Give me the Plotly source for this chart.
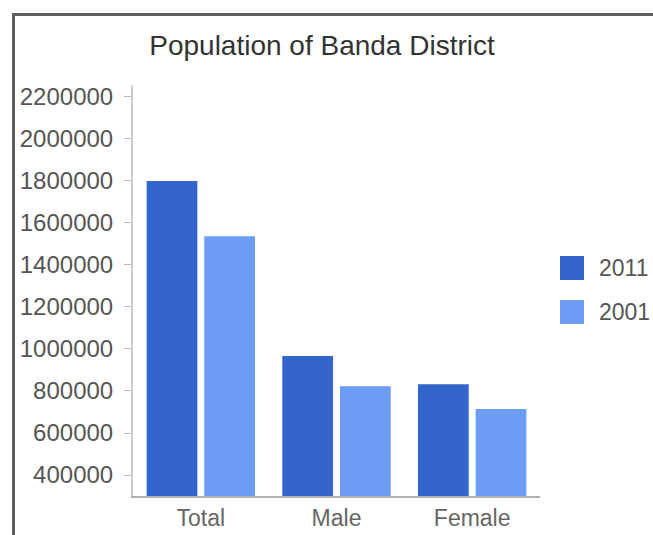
import plotly.graph_objects as go

categories = ["Total", "Male", "Female"]
pop_2011 = [1799410, 967024, 832386]
pop_2001 = [1537334, 822000, 714000]
series_names = ["2011", "2001"]
colors = ["#3465CC", "#6C9CF4"]
y_ticks = [400000, 600000, 800000, 1000000, 1200000, 1400000, 1600000, 1800000, 2000000, 2200000]

W, H = 653, 535
L, R, T, B = 133, 113, 85, 39
pw, ph = W - L - R, H - T - B

def px(x):
    return (x - L) / pw

def py(y):
    return (H - B - y) / ph

fig = go.Figure()
for name, vals, col in zip(series_names, [pop_2011, pop_2001], colors):
    fig.add_trace(go.Bar(x=categories, y=vals, name=name, marker=dict(color=col, line=dict(width=0)),
                         showlegend=False))

font_fam = "Liberation Sans, Arial, sans-serif"
shapes = [
    # outer frame lines
    dict(type="line", xref="paper", yref="paper", x0=px(13.5), x1=px(653), y0=py(14.5), y1=py(14.5),
         line=dict(color="#5f5f5f", width=3)),
    dict(type="line", xref="paper", yref="paper", x0=px(13.5), x1=px(13.5), y0=py(13), y1=py(535),
         line=dict(color="#5f5f5f", width=3)),
]
annotations = []
leg_y = [268, 312]
for name, col, yy in zip(series_names, colors, leg_y):
    shapes.append(dict(type="rect", xref="paper", yref="paper", x0=px(560), x1=px(584),
                       y0=py(yy - 12), y1=py(yy + 12), fillcolor=col, line=dict(width=0)))
    annotations.append(dict(text=name, xref="paper", yref="paper", x=px(597), y=py(yy),
                            xanchor="left", yanchor="middle", showarrow=False,
                            font=dict(size=23, color="#555555", family=font_fam)))

fig.update_layout(
    width=W, height=H,
    margin=dict(l=L, r=R, t=T, b=B, pad=0, autoexpand=False),
    paper_bgcolor="white", plot_bgcolor="white",
    barmode="group", bargap=0.15, bargroupgap=0.12,
    title=dict(text="Population of Banda District", x=322 / W, xref="container", xanchor="center",
               y=1 - 45 / H, yref="container", yanchor="middle",
               font=dict(size=28, color="#333333", family=font_fam)),
    font=dict(family=font_fam),
    shapes=shapes, annotations=annotations,
    xaxis=dict(showline=True, linecolor="#b0b0b0", linewidth=2, ticks="", showgrid=False,
               automargin=False,
               tickfont=dict(size=23, color="#666666"), ticklabelstandoff=0),
    yaxis=dict(range=[300000, 2257000], tickvals=y_ticks, tickformat="d", showgrid=False,
               automargin=False,
               zeroline=False, showline=True, linecolor="#cccccc", linewidth=2,
               ticks="outside", ticklen=7, tickcolor="#bbbbbb",
               tickfont=dict(size=24, color="#555555"), ticklabelstandoff=6),
)

fig.write_html("out.html")
